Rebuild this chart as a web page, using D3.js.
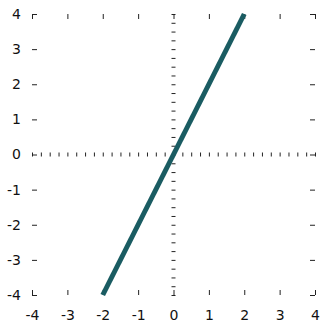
<!DOCTYPE html>
<html>
<head>
<meta charset="utf-8">
<script src="https://cdn.jsdelivr.net/npm/d3@7"></script>
<style>
  html, body { margin: 0; padding: 0; background: #fff; }
  svg { display: block; font-family: "DejaVu Sans", sans-serif; }
</style>
</head>
<body>
<svg id="chart" width="321" height="322"></svg>
<script>
// Line y = 2x drawn between its two end points
const lineX = [-2, 2];
const lineY = [-4, 4];

// Integer ticks on the frame, labelled on the left and bottom
const xTickLabels = [-4, -3, -2, -1, 0, 1, 2, 3, 4];
const yTickLabels = [-4, -3, -2, -1, 0, 1, 2, 3, 4];

// Minor ticks on the axes through the origin
const minorStep = 0.25;

const width = 321, height = 322;
const margin = { top: 14, right: 6, bottom: 27, left: 32 };

const svg = d3.select("#chart");

const x = d3.scaleLinear().domain([-4, 4]).range([margin.left, width - margin.right]);
const y = d3.scaleLinear().domain([-4, 4]).range([height - margin.bottom, margin.top]);

const tickColor = "#222";
const plainNumber = d => String(d);

function styleAxis(g) {
  g.select(".domain").remove();
  g.selectAll(".tick line").attr("stroke", tickColor);
  g.selectAll(".tick text")
    .attr("fill", "#111")
    .attr("font-size", 14)
    .attr("font-family", "DejaVu Sans, sans-serif");
}

// Frame: ticks pointing inwards on all four sides
svg.append("g")
  .attr("transform", `translate(0,${height - margin.bottom})`)
  .call(d3.axisBottom(x).tickValues(xTickLabels).tickSizeInner(-5).tickSizeOuter(0)
    .tickPadding(15).tickFormat(plainNumber))
  .call(styleAxis);

svg.append("g")
  .attr("transform", `translate(0,${margin.top})`)
  .call(d3.axisTop(x).tickValues(xTickLabels).tickSizeInner(-5).tickSizeOuter(0).tickFormat(""))
  .call(styleAxis);

svg.append("g")
  .attr("transform", `translate(${margin.left},0)`)
  .call(d3.axisLeft(y).tickValues(yTickLabels).tickSizeInner(-5).tickSizeOuter(0)
    .tickPadding(11).tickFormat(plainNumber))
  .call(styleAxis);

svg.append("g")
  .attr("transform", `translate(${width - margin.right},0)`)
  .call(d3.axisRight(y).tickValues(yTickLabels).tickSizeInner(-5).tickSizeOuter(0).tickFormat(""))
  .call(styleAxis);

// Axes through the origin: small centred ticks, no axis line
const minorX = d3.range(x.domain()[0], x.domain()[1] + minorStep / 2, minorStep);
const minorY = d3.range(y.domain()[0], y.domain()[1] + minorStep / 2, minorStep);

svg.append("g")
  .attr("transform", `translate(0,${y(0)})`)
  .call(d3.axisBottom(x).tickValues(minorX).tickSizeOuter(0).tickFormat(""))
  .call(styleAxis)
  .call(g => g.selectAll(".tick line").attr("y1", -2).attr("y2", 2));

svg.append("g")
  .attr("transform", `translate(${x(0)},0)`)
  .call(d3.axisLeft(y).tickValues(minorY).tickSizeOuter(0).tickFormat(""))
  .call(styleAxis)
  .call(g => g.selectAll(".tick line").attr("x1", -2).attr("x2", 2));

// The line itself
const points = lineX.map((d, i) => [d, lineY[i]]);
svg.append("path")
  .datum(points)
  .attr("fill", "none")
  .attr("stroke", "#1a5c62")
  .attr("stroke-width", 5)
  .attr("d", d3.line().x(d => x(d[0])).y(d => y(d[1])));
</script>
</body>
</html>
